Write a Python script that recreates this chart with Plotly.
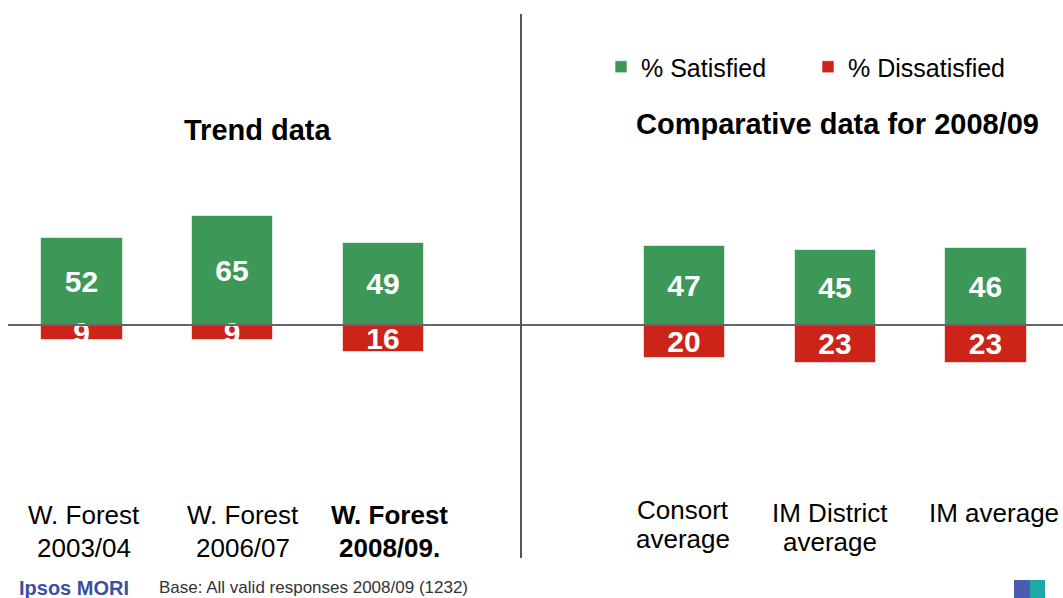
import plotly.graph_objects as go

# Survey results: % satisfied / % dissatisfied
categories = ["W. Forest 2003/04", "W. Forest 2006/07", "W. Forest 2008/09.",
              "Consort average", "IM District average", "IM average"]
label_lines = [["W. Forest", "2003/04"], ["W. Forest", "2006/07"], ["<b>W. Forest</b>", "<b>2008/09.</b>"],
               ["Consort", "average"], ["IM District", "average"], ["IM average"]]
satisfied = [52, 65, 49, 47, 45, 46]
dissatisfied = [9, 9, 16, 20, 23, 23]

GREEN = "#3D9858"
RED = "#CC2418"
FONT = "Liberation Sans, Arial, sans-serif"
W, H = 1063, 598

# A blank slot separates the trend group from the comparison group
spacer = " "
axis_order = categories[:3] + [spacer] + categories[3:]

fig = go.Figure()
fig.add_trace(go.Bar(
    x=categories, y=satisfied, name="% Satisfied",
    marker=dict(color=GREEN, line=dict(color="rgba(255,255,255,0.6)", width=1)),
    width=0.54, text=[str(v) for v in satisfied], textposition="inside",
    insidetextanchor="middle", textangle=0,
    textfont=dict(family=FONT, size=30, color="white", weight="bold"),
))
fig.add_trace(go.Bar(
    x=categories, y=[-v for v in dissatisfied], name="% Dissatisfied",
    marker=dict(color=RED, line=dict(color="rgba(255,255,255,0.6)", width=1)),
    width=0.54, text=[str(v) for v in dissatisfied], textposition="inside",
    insidetextanchor="middle", textangle=0,
    textfont=dict(family=FONT, size=30, color="white", weight="bold"),
))


def py(pixel_y):
    return 1 - pixel_y / H


annotations = []
# Category labels under each group (small horizontal nudges per label)
nudges = [2, 10, 6, -2, -5, 8]
for i, (cat, lines) in enumerate(zip(categories, label_lines)):
    left_group = i < 3
    top = 515 if left_group else (510 if i == 3 else 513)
    step = 33 if left_group else 29
    for j, line in enumerate(lines):
        annotations.append(dict(
            x=cat, xref="x", y=py(top + j * step), yref="paper", xshift=nudges[i],
            text=line, showarrow=False, xanchor="center", yanchor="middle",
            font=dict(family=FONT, size=26, color="black"),
        ))

# Section titles
annotations.append(dict(x=258 / W, y=py(130), xref="paper", yref="paper",
                        xanchor="center", yanchor="middle",
                        text="<b>Trend data</b>", showarrow=False,
                        font=dict(family=FONT, size=29, color="black")))
annotations.append(dict(x=837 / W, y=py(124), xref="paper", yref="paper",
                        xanchor="center", yanchor="middle",
                        text="<b>Comparative data for 2008/09</b>", showarrow=False,
                        font=dict(family=FONT, size=29, color="black")))
# Footer
annotations.append(dict(x=157 / W, y=py(587), xref="paper", yref="paper",
                        xanchor="left", yanchor="middle",
                        text="Base: All valid responses 2008/09 (1232)", showarrow=False,
                        font=dict(family=FONT, size=17, color="#333333")))
annotations.append(dict(x=17 / W, y=py(588), xref="paper", yref="paper",
                        xanchor="left", yanchor="middle",
                        text="<b>Ipsos MORI</b>", showarrow=False,
                        font=dict(family=FONT, size=20, color="#3B4FA0")))

shapes = [
    # zero baseline
    dict(type="line", xref="paper", yref="y", x0=8 / W, x1=1, y0=0, y1=0,
         line=dict(color="#666666", width=2)),
    # divider between trend and comparison
    dict(type="line", xref="paper", yref="paper", x0=521 / W, x1=521 / W,
         y0=py(14), y1=py(558), line=dict(color="#555555", width=2)),
    # small corner logo
    dict(type="rect", xref="paper", yref="paper", x0=1014 / W, x1=1030 / W,
         y0=0, y1=py(580), fillcolor="#4A5BB0", line=dict(width=0)),
    dict(type="rect", xref="paper", yref="paper", x0=1030 / W, x1=1045 / W,
         y0=0, y1=py(580), fillcolor="#1FA8A8", line=dict(width=0)),
]

fig.update_layout(
    width=W, height=H, autosize=False,
    margin=dict(l=0, r=0, t=0, b=0, autoexpand=False),
    paper_bgcolor="white", plot_bgcolor="white",
    barmode="relative", bargap=0,
    uniformtext=dict(minsize=30, mode="show"),
    font=dict(family=FONT, color="black"),
    xaxis=dict(type="category", categoryorder="array", categoryarray=axis_order,
               range=[-0.544, 6.511], showticklabels=False, showgrid=False,
               zeroline=False, showline=False, ticks=""),
    yaxis=dict(range=[-163.5, 194.6], showticklabels=False, showgrid=False,
               zeroline=False, showline=False),
    legend=dict(orientation="h", x=601 / W, y=py(44), xanchor="left", yanchor="top",
                font=dict(family=FONT, size=25, color="black"), entrywidth=162,
                entrywidthmode="pixels", bgcolor="rgba(0,0,0,0)", itemclick=False),
    annotations=annotations,
    shapes=shapes,
)

fig.write_html("out.html")
